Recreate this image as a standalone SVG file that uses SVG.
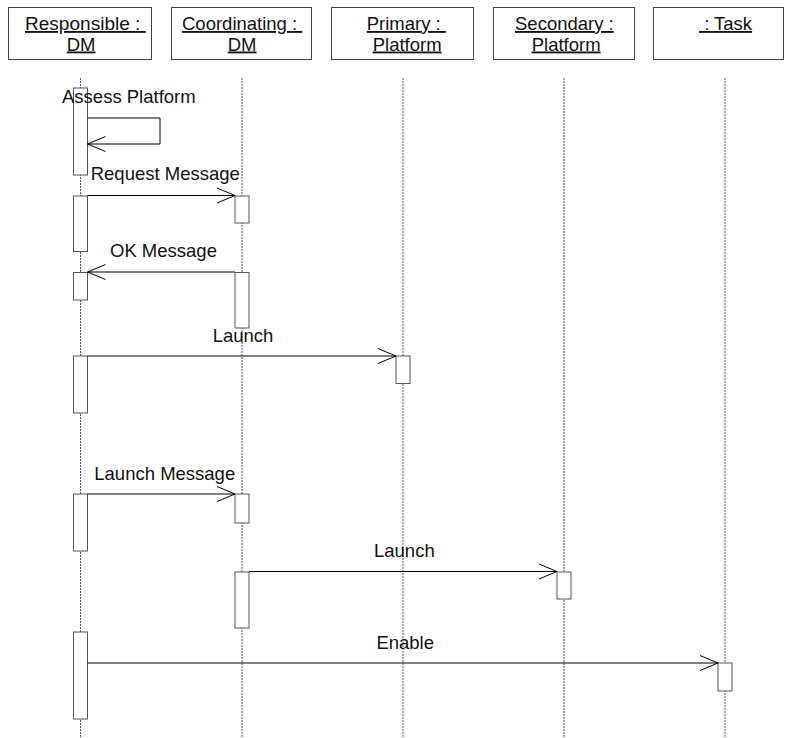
<svg xmlns="http://www.w3.org/2000/svg" width="785" height="738" viewBox="0 0 785 738">
<style>
.hdr{fill:#fff;stroke:#444;stroke-width:1}
.ht{font-family:"Liberation Sans",Arial,sans-serif;font-size:18.5px;fill:#111;text-decoration:underline;white-space:pre}
.life{stroke:#555;stroke-width:1;stroke-dasharray:2 1;fill:none}
.act{fill:#fff;stroke:#555;stroke-width:1}
.msg{stroke:#000;stroke-width:1;fill:none;marker-end:url(#open)}
.mt{font-family:"Liberation Sans",Arial,sans-serif;font-size:18.5px;fill:#111}
</style>
<defs>
<marker id="open" markerUnits="userSpaceOnUse" markerWidth="22" markerHeight="20" viewBox="-20 -10 22 20" refX="0" refY="0" orient="auto" overflow="visible">
<path d="M-18,-7.5 L0,0 L-18,7.5" fill="none" stroke="#000" stroke-width="1"/>
</marker>
</defs>
<g id="lifelines">
<line class="life" x1="80.5" y1="78" x2="80.5" y2="738"/>
<line class="life" x1="242" y1="78" x2="242" y2="738"/>
<line class="life" x1="403" y1="78" x2="403" y2="738"/>
<line class="life" x1="564" y1="78" x2="564" y2="738"/>
<line class="life" x1="725" y1="78" x2="725" y2="738"/>
</g>
<g id="responsible-dm">
<rect class="hdr" x="8.5" y="7.5" width="143" height="52"/>
<text class="ht" x="25" y="30" textLength="120.7" lengthAdjust="spacingAndGlyphs">Responsible : </text>
<text class="ht" x="66.7" y="50.5">DM</text>
</g>
<g id="coordinating-dm">
<rect class="hdr" x="171.5" y="7.5" width="140" height="52"/>
<text class="ht" x="182" y="30">Coordinating : </text>
<text class="ht" x="227.7" y="50.5">DM</text>
</g>
<g id="primary-platform">
<rect class="hdr" x="331.5" y="7.5" width="142" height="52"/>
<text class="ht" x="366.7" y="30">Primary : </text>
<text class="ht" x="372.7" y="50.5">Platform</text>
</g>
<g id="secondary-platform">
<rect class="hdr" x="493.5" y="7.5" width="141" height="52"/>
<text class="ht" x="515" y="30">Secondary :</text>
<text class="ht" x="531.7" y="50.5">Platform</text>
</g>
<g id="task">
<rect class="hdr" x="653.5" y="7.5" width="130" height="52"/>
<text class="ht" x="699" y="30"> : Task</text>
</g>
<g id="activations">
<rect class="act" x="73.5" y="88" width="14" height="87"/>
<rect class="act" x="73.5" y="196" width="14" height="55.5"/>
<rect class="act" x="235" y="196" width="14" height="27"/>
<rect class="act" x="73.5" y="272.5" width="14" height="27.5"/>
<rect class="act" x="235" y="272.5" width="14" height="55.5"/>
<rect class="act" x="73.5" y="356" width="14" height="57"/>
<rect class="act" x="396" y="356" width="14" height="27.5"/>
<rect class="act" x="73.5" y="494" width="14" height="57"/>
<rect class="act" x="235" y="494" width="14" height="29"/>
<rect class="act" x="235" y="572" width="14" height="56"/>
<rect class="act" x="557" y="572" width="14" height="27"/>
<rect class="act" x="73.5" y="632" width="14" height="87"/>
<rect class="act" x="718" y="663" width="14" height="28"/>
</g>
<g id="connectors">
<polyline class="msg" points="87.5,118 160,118 160,144 87.5,144"/>
<line class="msg" x1="87.5" y1="195.5" x2="235" y2="195.5"/>
<line class="msg" x1="235" y1="272" x2="87.5" y2="272"/>
<line class="msg" x1="87.5" y1="356" x2="396" y2="356"/>
<line class="msg" x1="87.5" y1="494" x2="235" y2="494"/>
<line class="msg" x1="249" y1="571.5" x2="557" y2="571.5"/>
<line class="msg" x1="87.5" y1="663" x2="718" y2="663"/>
</g>
<g id="labels">
<text class="mt" x="62" y="103">Assess Platform</text>
<text class="mt" x="90.7" y="180">Request Message</text>
<text class="mt" x="110" y="257">OK Message</text>
<text class="mt" x="212.7" y="342">Launch</text>
<text class="mt" x="94.3" y="480">Launch Message</text>
<text class="mt" x="374" y="557">Launch</text>
<text class="mt" x="376.4" y="649">Enable</text>
</g>
</svg>
